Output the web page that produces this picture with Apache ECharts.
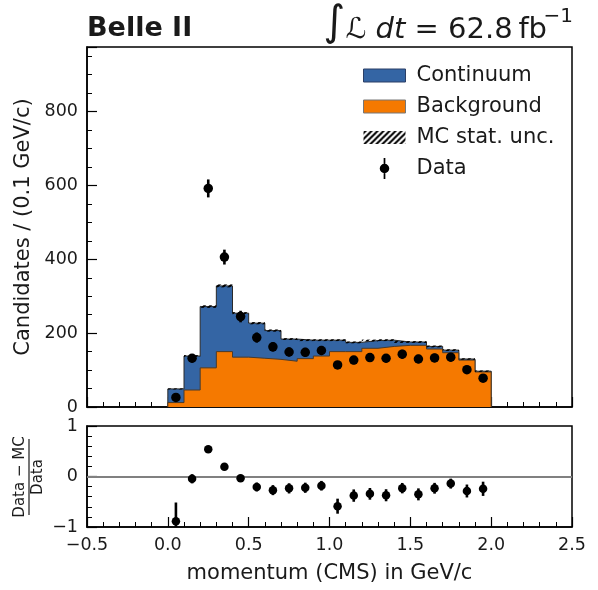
<!DOCTYPE html>
<html>
<head>
<meta charset="utf-8">
<script src="https://cdn.jsdelivr.net/npm/echarts@6/dist/echarts.min.js"></script>
<style>
  html, body { margin: 0; padding: 0; background: #fff; }
  #chart { width: 598px; height: 590px; }
</style>
</head>
<body>
<div id="chart"></div>
<script>
// Momentum bins (GeV/c), width 0.1 from 0.0 to 2.0
const binEdges = [0.0, 0.1, 0.2, 0.3, 0.4, 0.5, 0.6, 0.7, 0.8, 0.9, 1.0,
                  1.1, 1.2, 1.3, 1.4, 1.5, 1.6, 1.7, 1.8, 1.9, 2.0];
// Stacked MC templates (candidates per bin)
const background = [12, 46, 106, 150, 135, 132, 129, 124, 131, 138,
                    150, 150, 159, 164, 167, 167, 157, 147, 127, 95];
const continuum  = [37, 92, 166, 178, 119, 95, 78, 60, 50, 43,
                    31, 25, 21, 17, 9, 9, 7, 7, 3, 2];
// MC statistical uncertainty on the stack sum
const mcStatUnc  = [1.5, 2.5, 3.5, 4, 3, 3, 3, 2.5, 2.5, 2.5,
                    2.5, 2.5, 2.5, 2.5, 2.5, 2.5, 2.5, 2.5, 2, 2];
// Observed candidates per bin
const dataCounts = [26, 132, 592, 406, 245, 188, 163, 149, 148, 153,
                    114, 127, 134, 132, 143, 130, 133, 135, 101, 78];

const FONT = 'DejaVu Sans';
const TXT = '#1a1a1a';
const BLUE = '#3465a4';
const ORANGE = '#f57900';

const nBins = dataCounts.length;
const centers = [];
const mcTotal = [];
for (let i = 0; i < nBins; i++) {
  centers.push((binEdges[i] + binEdges[i + 1]) / 2);
  mcTotal.push(background[i] + continuum[i]);
}

// Step outline points: starts and ends on the baseline
function stepPoints(vals) {
  const pts = [[binEdges[0], 0]];
  for (let i = 0; i < vals.length; i++) pts.push([binEdges[i], vals[i]]);
  pts.push([binEdges[vals.length], 0]);
  return pts;
}

// Hatch pattern for the MC uncertainty band
function hatchPattern() {
  const s = 6;
  const c = document.createElement('canvas');
  c.width = s; c.height = s;
  const ctx = c.getContext('2d');
  ctx.strokeStyle = '#000';
  ctx.lineWidth = 2;
  ctx.beginPath();
  ctx.moveTo(0, s); ctx.lineTo(s, 0);
  ctx.moveTo(-2, 2); ctx.lineTo(2, -2);
  ctx.moveTo(s - 2, s + 2); ctx.lineTo(s + 2, s - 2);
  ctx.stroke();
  return { image: c, repeat: 'repeat' };
}
const hatch = hatchPattern();

const uncBand = [];
const dataPts = [], dataErr = [], ratioPts = [], ratioErr = [];
for (let i = 0; i < nBins; i++) {
  uncBand.push([binEdges[i], binEdges[i + 1], mcTotal[i] - mcStatUnc[i], mcTotal[i] + mcStatUnc[i]]);
  const d = dataCounts[i];
  const e = Math.sqrt(d);
  dataPts.push([centers[i], d]);
  dataErr.push([centers[i], d, e]);
  const r = (d - mcTotal[i]) / d;
  const re = mcTotal[i] * e / (d * d);
  ratioPts.push([centers[i], r]);
  ratioErr.push([centers[i], r, re]);
}

function fmtTick(v, dec) {
  const s = Math.abs(v).toFixed(dec);
  return v < 0 ? '\u2212' + s : s;
}

function errRenderer(lw, lo, hi) {
  return function (params, api) {
    const x = api.value(0), y = api.value(1), e = api.value(2);
    const a = api.coord([x, Math.max(lo, y - e)]);
    const b = api.coord([x, Math.min(hi, y + e)]);
    return { type: 'line', shape: { x1: a[0], y1: a[1], x2: b[0], y2: b[1] },
             style: { stroke: '#000', lineWidth: lw } };
  };
}

const YMAX = 975;

const rectIcon = 'path://M0,0 L42,0 L42,13 L0,13 Z';
const dataIcon = 'path://M4.1,0 L5.9,0 L5.9,22 L4.1,22 Z M10,11 A5,5 0 1 1 0,11 A5,5 0 1 1 10,11 Z';

const chart = echarts.init(document.getElementById('chart'), null, { renderer: 'canvas' });

const axisCommon = {
  axisLine: { show: true, onZero: false, lineStyle: { color: '#000', width: 1.5 } },
  axisTick: { show: true, inside: true, length: 10, lineStyle: { color: '#000', width: 1.2 } },
  minorTick: { show: true, length: 5, lineStyle: { color: '#000', width: 1 } },
  splitLine: { show: false },
  axisLabel: { color: TXT, fontFamily: FONT, fontSize: 17.5 }
};

const option = {
  animation: false,
  backgroundColor: '#fff',
  textStyle: { fontFamily: FONT },
  grid: [
    { left: 87, right: 26, top: 47, height: 360, show: true, borderColor: '#000', borderWidth: 1.5 },
    { left: 87, right: 26, top: 426, height: 101, show: true, borderColor: '#000', borderWidth: 1.5 }
  ],
  xAxis: [
    Object.assign({}, axisCommon, {
      type: 'value', gridIndex: 0, min: -0.5, max: 2.5, interval: 0.5,
      minorTick: Object.assign({}, axisCommon.minorTick, { splitNumber: 5 }),
      axisLabel: { show: false }
    }),
    Object.assign({}, axisCommon, {
      type: 'value', gridIndex: 1, min: -0.5, max: 2.5, interval: 0.5,
      minorTick: Object.assign({}, axisCommon.minorTick, { splitNumber: 5 }),
      axisLabel: Object.assign({}, axisCommon.axisLabel, { margin: 9, formatter: v => fmtTick(v, 1) }),
      name: 'momentum (CMS) in GeV/c', nameLocation: 'middle', nameGap: 36,
      nameTextStyle: { fontFamily: FONT, fontSize: 21, color: TXT }
    })
  ],
  yAxis: [
    Object.assign({}, axisCommon, {
      type: 'value', gridIndex: 0, min: 0, max: YMAX, interval: 200,
      minorTick: Object.assign({}, axisCommon.minorTick, { splitNumber: 4 }),
      axisLabel: Object.assign({}, axisCommon.axisLabel, { margin: 9, showMaxLabel: false }),
      name: 'Candidates / (0.1 GeV/c)', nameLocation: 'middle', nameRotate: 90, nameGap: 44,
      nameTextStyle: { fontFamily: FONT, fontSize: 21, color: TXT }
    }),
    Object.assign({}, axisCommon, {
      type: 'value', gridIndex: 1, min: -1, max: 1, interval: 1,
      minorTick: Object.assign({}, axisCommon.minorTick, { splitNumber: 5 }),
      axisLabel: Object.assign({}, axisCommon.axisLabel, { margin: 9, formatter: v => fmtTick(v, 0) })
    })
  ],
  legend: {
    orient: 'vertical', left: 358, top: 60,
    itemWidth: 42, itemHeight: 21, itemGap: 10,
    textStyle: { fontFamily: FONT, fontSize: 21, color: TXT, padding: [0, 0, 0, 6] },
    data: [
      { name: 'Continuum', icon: rectIcon, itemStyle: { color: BLUE, borderColor: '#2b3f66', borderWidth: 1 } },
      { name: 'Background', icon: rectIcon, itemStyle: { color: ORANGE, borderColor: '#777', borderWidth: 1 } },
      { name: 'MC stat. unc.', icon: rectIcon, itemStyle: { color: hatch, borderWidth: 0 } },
      { name: 'Data', icon: dataIcon, itemStyle: { color: '#000', opacity: 1 } }
    ]
  },
  graphic: [
    { type: 'text', left: 87, top: 15,
      style: { text: 'Belle II', fontFamily: FONT, fontWeight: 'bold', fontSize: 27, fill: TXT } },
    // Integrated luminosity
    { type: 'text', x: 547, y: 45,
      style: {
        text: '{int|\u222B}{L|\u2112}{it| dt}{n| = 62.8\u2009fb}',
        fill: TXT, align: 'right', verticalAlign: 'bottom',
        rich: {
          int: { fontFamily: FONT, fontSize: 42, verticalAlign: 'bottom', lineHeight: 46 },
          L: { fontFamily: FONT, fontSize: 29, verticalAlign: 'bottom', lineHeight: 40 },
          it: { fontFamily: FONT, fontStyle: 'italic', fontSize: 29, verticalAlign: 'bottom', lineHeight: 40 },
          n: { fontFamily: FONT, fontSize: 29, verticalAlign: 'bottom', lineHeight: 40 }
        }
      } },
    { type: 'text', x: 573, y: 7,
      style: { text: '\u22121', fontFamily: FONT, fontSize: 20, fill: TXT, align: 'right', verticalAlign: 'top' } },
    // Ratio axis title as a stacked fraction
    { type: 'text', x: 20, y: 477, rotation: Math.PI / 2,
      style: { text: 'Data \u2212 MC', fontFamily: FONT, fontSize: 15, fill: TXT, align: 'center', verticalAlign: 'middle' } },
    { type: 'line', shape: { x1: 29, y1: 439, x2: 29, y2: 515 }, style: { stroke: TXT, lineWidth: 1.2 } },
    { type: 'text', x: 38, y: 477, rotation: Math.PI / 2,
      style: { text: 'Data', fontFamily: FONT, fontSize: 15, fill: TXT, align: 'center', verticalAlign: 'middle' } }
  ],
  series: [
    { name: 'Continuum', type: 'line', xAxisIndex: 0, yAxisIndex: 0, step: 'end',
      data: stepPoints(mcTotal), symbol: 'none', z: 2,
      lineStyle: { color: '#2a2a2a', width: 1 }, itemStyle: { color: BLUE },
      areaStyle: { color: BLUE, opacity: 1 } },
    { name: 'Background', type: 'line', xAxisIndex: 0, yAxisIndex: 0, step: 'end',
      data: stepPoints(background), symbol: 'none', z: 3,
      lineStyle: { color: '#4a3a2a', width: 1 }, itemStyle: { color: ORANGE },
      areaStyle: { color: ORANGE, opacity: 1 } },
    { name: 'MC stat. unc.', type: 'custom', xAxisIndex: 0, yAxisIndex: 0, z: 4,
      itemStyle: { color: hatch },
      data: uncBand,
      renderItem: function (params, api) {
        const p0 = api.coord([api.value(0), api.value(3)]);
        const p1 = api.coord([api.value(1), api.value(2)]);
        return { type: 'rect', shape: { x: p0[0], y: p0[1], width: p1[0] - p0[0], height: Math.max(1, p1[1] - p0[1]) },
                 style: { fill: hatch } };
      } },
    { name: 'DataErr', type: 'custom', xAxisIndex: 0, yAxisIndex: 0, z: 5,
      data: dataErr, renderItem: errRenderer(2.6, 0, YMAX) },
    { name: 'Data', type: 'scatter', xAxisIndex: 0, yAxisIndex: 0, z: 6,
      data: dataPts, symbol: 'circle', symbolSize: 9.5, itemStyle: { color: '#000', opacity: 1 } },
    { name: 'RatioErr', type: 'custom', xAxisIndex: 1, yAxisIndex: 1, z: 5,
      data: ratioErr, renderItem: errRenderer(2.6, -1, 1) },
    { name: 'Ratio', type: 'scatter', xAxisIndex: 1, yAxisIndex: 1, z: 6,
      data: ratioPts, symbol: 'circle', symbolSize: 8.5, itemStyle: { color: '#000', opacity: 1 },
      markLine: { silent: true, symbol: 'none', label: { show: false },
                  lineStyle: { color: '#808080', width: 2, type: 'solid' },
                  data: [{ yAxis: 0 }], z: 3 } }
  ]
};

chart.setOption(option);
</script>
</body>
</html>
